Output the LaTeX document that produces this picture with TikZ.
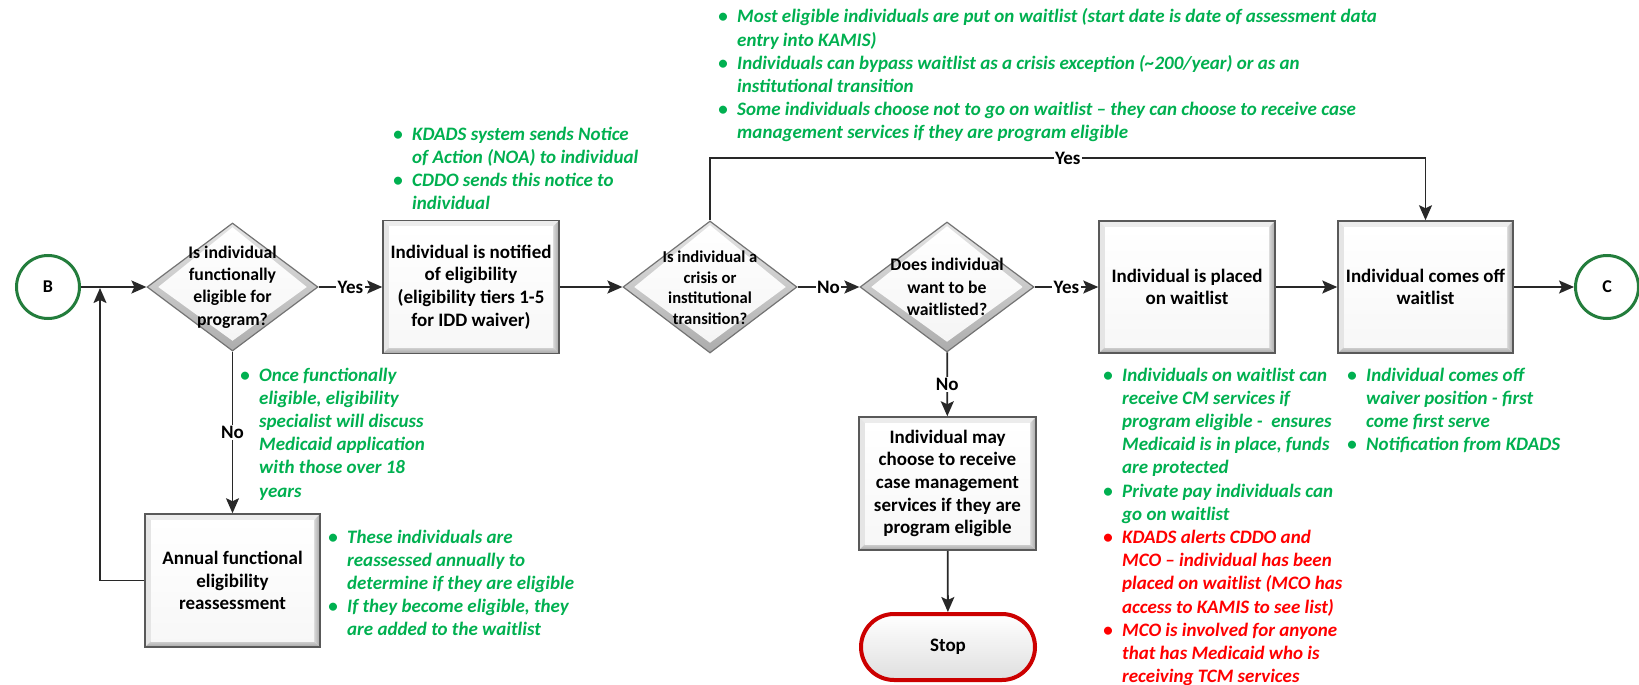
\documentclass[tikz,border=0pt]{standalone}
\usepackage{fontspec}
\setmainfont{Carlito}
\usetikzlibrary{arrows.meta,shapes.geometric,shapes.misc,calc}

\definecolor{notegreen}{RGB}{0,176,80}
\definecolor{notered}{RGB}{255,0,0}
\definecolor{ringgreen}{RGB}{35,125,60}
\definecolor{linegray}{RGB}{40,40,40}

% bullet column for the side notes
\newcommand\bul{\makebox[28pt]{\upshape\textbullet}}

\tikzset{
  % bevelled process box
  bevel/.style={path picture={
    \coordinate (pSW) at (path picture bounding box.south west);
    \coordinate (pNE) at (path picture bounding box.north east);
    \coordinate (pSE) at (path picture bounding box.south east);
    \coordinate (pNW) at (path picture bounding box.north west);
    \coordinate (qSW) at ($(pSW)+(6pt,6pt)$);
    \coordinate (qNE) at ($(pNE)+(-6pt,-6pt)$);
    \coordinate (qSE) at ($(pSE)+(-6pt,6pt)$);
    \coordinate (qNW) at ($(pNW)+(6pt,-6pt)$);
    \fill[gray!15] (pNW) -- (pNE) -- (qNE) -- (qNW) -- cycle;
    \fill[gray!20] (pNW) -- (qNW) -- (qSW) -- (pSW) -- cycle;
    \shade[left color=gray!30, right color=gray!70] (pNE) -- (pSE) -- (qSE) -- (qNE) -- cycle;
    \shade[top color=gray!35, bottom color=gray!70] (pSW) -- (pSE) -- (qSE) -- (qSW) -- cycle;
    \shade[top color=white, bottom color=gray!6] (qSW) rectangle (qNE);
  }},
  % bevelled decision diamond
  dbevel/.style={path picture={
    \coordinate (pN) at (path picture bounding box.north);
    \coordinate (pS) at (path picture bounding box.south);
    \coordinate (pE) at (path picture bounding box.east);
    \coordinate (pW) at (path picture bounding box.west);
    \shade[top color=gray!20, bottom color=gray!65] (pN) -- (pE) -- (pS) -- (pW) -- cycle;
    \shade[top color=white, bottom color=gray!8]
      ($(pN)+(0,-4pt)$) -- ($(pE)+(-11pt,0)$) -- ($(pS)+(0,10pt)$) -- ($(pW)+(11pt,0)$) -- cycle;
  }},
  procbox/.style={rectangle, draw=black!65, line width=1.5pt, inner sep=0pt,
    align=center, bevel, font=\bfseries\fontsize{19}{22.7}\selectfont},
  decision/.style={diamond, draw=black!55, line width=1.2pt, inner sep=0pt, dbevel},
  dtext/.style={align=center, inner sep=0pt, font=\bfseries\fontsize{17.7}{22.3}\selectfont},
  ring/.style={circle, draw=ringgreen, line width=3pt, fill=white, minimum size=63pt,
    inner sep=0pt, font=\bfseries\fontsize{18}{22}\selectfont},
  terminal/.style={rounded rectangle, draw=red!80!black, line width=4pt,
    top color=white, bottom color=gray!25, minimum width=174pt, minimum height=66pt,
    inner sep=0pt, font=\bfseries\fontsize{19}{22.7}\selectfont},
  conn/.style={draw=linegray, line width=1.8pt,
    -{Stealth[length=15pt,width=13pt,inset=3pt]}},
  lbl/.style={fill=white, inner sep=1.5pt, font=\bfseries\fontsize{19}{22.7}\selectfont},
  note/.style={inner sep=0pt, anchor=base west, text=notegreen,
    font=\bfseries\itshape\fontsize{19}{23.2}\selectfont},
}

\begin{document}
\begin{tikzpicture}[x=1pt, y=-1pt]
\useasboundingbox (0,0) rectangle (1639,685);

% flow nodes
\node[ring] (B) at (48,287) {B};
\node[decision, minimum width=171pt, minimum height=128pt] (d1) at (232.5,287) {};
\node[dtext] (d1t) at (d1) {Is individual\\functionally\\eligible for\\program?};
\node[procbox, minimum width=176pt, minimum height=133pt] (box1) at (471,287)
  {Individual is notified\\of eligibility\\(eligibility tiers 1-5\\for IDD waiver)};
\node[decision, minimum width=174pt, minimum height=132pt] (d2) at (710,287) {};
\node[dtext, font=\bfseries\fontsize{16.6}{20.5}\selectfont] (d2t) at (710,287.5)
  {Is individual a\\crisis or\\institutional\\transition?};
\node[decision, minimum width=174pt, minimum height=130pt] (d3) at (947,287) {};
\node[dtext] (d3t) at (947,287) {Does individual\\want to be\\waitlisted?};
\node[procbox, minimum width=176pt, minimum height=132pt] (box3) at (1187,287)
  {Individual is placed\\on waitlist};
\node[procbox, minimum width=175pt, minimum height=132pt] (box4) at (1425.5,287)
  {Individual comes off\\waitlist};
\node[ring] (C) at (1607,287) {C};
\node[procbox, minimum width=175pt, minimum height=133pt] (annual) at (232.5,580.5)
  {Annual functional\\eligibility\\reassessment};
\node[procbox, minimum width=177pt, minimum height=133pt] (may) at (947.5,483.5)
  {Individual may\\choose to receive\\case management\\services if they are\\program eligible};
\node[terminal] (stop) at (948,647) {Stop};

% connectors
\coordinate (topy) at (0,158);
\coordinate (fbx) at (100,0);
\draw[conn] (B) -- (d1);
\draw[conn] (d1) -- node[lbl] (y1) {Yes} (box1);
\draw[conn] (box1) -- (d2);
\draw[conn] (d2) -- node[lbl] (n2) {No} (d3);
\draw[conn] (d3) -- node[lbl] (y3) {Yes} (box3);
\draw[conn] (box3) -- (box4);
\draw[conn] (box4) -- (C);
\draw[conn] (d2.north) -- (d2.north |- topy) -- node[lbl] (y2) {Yes} (box4.north |- topy) -- (box4.north);
\draw[conn] (d1) -- node[lbl] (n1) {No} (annual);
\draw[conn] (d3) -- node[lbl] (n3) {No} (may);
\draw[conn] (may) -- (stop);
\draw[conn] (annual.west) -- (fbx |- annual.west) -- ($(fbx |- B.east)+(0,1)$);

% side notes
\node[note] (notetop) at (709,23) {\begin{tabular}[t]{@{}c@{}l@{}}
\bul & Most eligible individuals are put on waitlist (start date is date of assessment data\\
     & entry into KAMIS)\\
\bul & Individuals can bypass waitlist as a crisis exception (\textasciitilde200/year) or as an\\
     & institutional transition\\
\bul & Some individuals choose not to go on waitlist – they can choose to receive case\\
     & management services if they are program eligible
\end{tabular}};

\node[note] (notenoa) at (384,140) {\begin{tabular}[t]{@{}c@{}l@{}}
\bul & KDADS system sends Notice\\
     & of Action (NOA) to individual\\
\bul & CDDO sends this notice to\\
     & individual
\end{tabular}};

\node[note] (noteonce) at (231,381) {\begin{tabular}[t]{@{}c@{}l@{}}
\bul & Once functionally\\
     & eligible, eligibility\\
     & specialist will discuss\\
     & Medicaid application\\
     & with those over 18\\
     & years
\end{tabular}};

\node[note] (noteannual) at (319,543) {\begin{tabular}[t]{@{}c@{}l@{}}
\bul & These individuals are\\
     & reassessed annually to\\
     & determine if they are eligible\\
\bul & If they become eligible, they\\
     & are added to the waitlist
\end{tabular}};

\node[note] (noteplaced) at (1094,381) {\begin{tabular}[t]{@{}c@{}l@{}}
\bul & Individuals on waitlist can\\
     & receive CM services if\\
     & program eligible - \ ensures\\
     & Medicaid is in place, funds\\
     & are protected\\
\bul & Private pay individuals can\\
     & go on waitlist
\end{tabular}};

\node[note, text=notered] (notealert) at (1094,543.4) {\begin{tabular}[t]{@{}c@{}l@{}}
\bul & KDADS alerts CDDO and\\
     & MCO – individual has been\\
     & placed on waitlist (MCO has\\
     & access to KAMIS to see list)\\
\bul & MCO is involved for anyone\\
     & that has Medicaid who is\\
     & receiving TCM services
\end{tabular}};

\node[note] (noteoff) at (1338,381) {\begin{tabular}[t]{@{}c@{}l@{}}
\bul & Individual comes off\\
     & waiver position - first\\
     & come first serve\\
\bul & Notification from KDADS
\end{tabular}};
\end{tikzpicture}
\end{document}
